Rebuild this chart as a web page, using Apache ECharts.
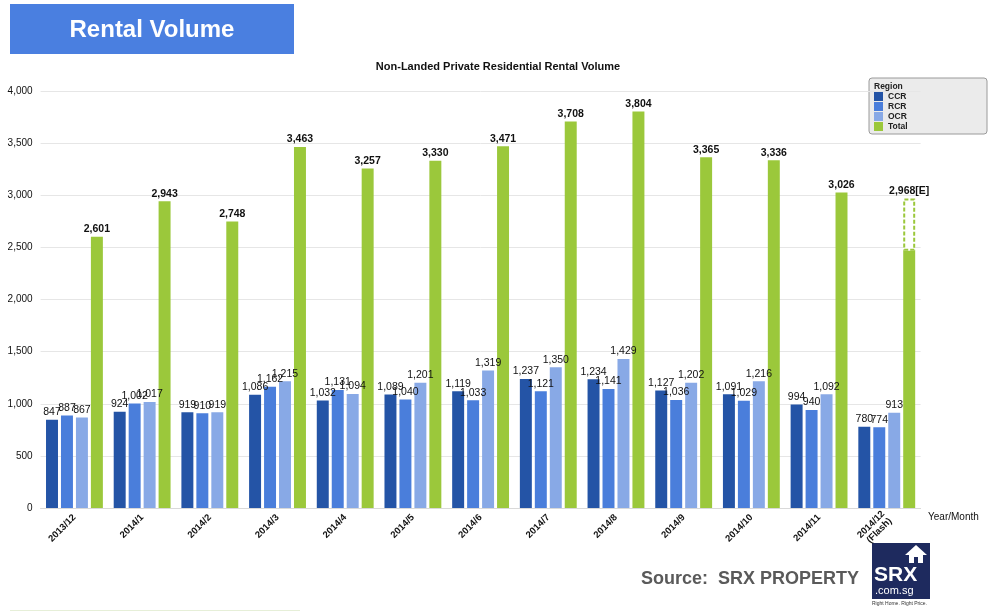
<!DOCTYPE html>
<html>
<head>
<meta charset="utf-8">
<script src="https://cdn.jsdelivr.net/npm/echarts@6/dist/echarts.min.js"></script>
<style>
html,body{margin:0;padding:0;background:#fff;}
#c{width:993px;height:613px;}
</style>
</head>
<body>
<div id="c"></div>
<script>
var categories = ['2013/12','2014/1','2014/2','2014/3','2014/4','2014/5','2014/6','2014/7','2014/8','2014/9','2014/10','2014/11','2014/12\n(Flash)'];
var ccr = [847, 924, 919, 1086, 1032, 1089, 1119, 1237, 1234, 1127, 1091, 994, 780];
var rcr = [887, 1002, 910, 1162, 1131, 1040, 1033, 1121, 1141, 1036, 1029, 940, 774];
var ocr = [867, 1017, 919, 1215, 1094, 1201, 1319, 1350, 1429, 1202, 1216, 1092, 913];
var total = [2601, 2943, 2748, 3463, 3257, 3330, 3471, 3708, 3804, 3365, 3336, 3026, 2467];
var estimatedTotal = [null, null, null, null, null, null, null, null, null, null, null, null, 2968];
var yTicks = [0, 500, 1000, 1500, 2000, 2500, 3000, 3500, 4000];

var fmt = function (v) { return v == null ? '' : v.toLocaleString('en-US'); };
var estPart = estimatedTotal.map(function (e, i) { return e == null ? null : e - total[i]; });

var FONT = 'Arial, Liberation Sans, sans-serif';
var C_CCR = '#2454A6', C_RCR = '#4A7EDB', C_OCR = '#88A9E6', C_TOT = '#9BC83B';
var lblSmall = { show: true, position: 'top', distance: 2, color: '#111', fontSize: 10.5, fontFamily: FONT, formatter: function (p) { return fmt(p.value); } };

var chart = echarts.init(document.getElementById('c'), null, { renderer: 'canvas' });
chart.setOption({
  animation: false,
  backgroundColor: '#fff',
  title: {
    text: 'Non-Landed Private Residential Rental Volume',
    left: 493, top: 56, textAlign: 'center',
    textStyle: { fontSize: 11, fontWeight: 'bold', color: '#111', fontFamily: FONT }
  },
  grid: { left: 40.6, right: 72.4, top: 91, bottom: 105, containLabel: false },
  legend: {
    data: ['CCR', 'RCR', 'OCR', 'Total'],
    orient: 'vertical', left: 874, top: 92, padding: 0,
    itemWidth: 9, itemHeight: 9, itemGap: 1, icon: 'rect',
    textStyle: { fontSize: 8.5, fontWeight: 'bold', color: '#222', fontFamily: FONT, padding: [0, 0, 0, 0] }
  },
  graphic: [
    { type: 'rect', x: 10, y: 4, shape: { width: 284, height: 50 }, style: { fill: '#4A7FE0' }, z: 0 },
    { type: 'text', x: 152, y: 30, style: { text: 'Rental Volume', fill: '#fff', font: 'bold 24px Arial, Liberation Sans, sans-serif', align: 'center', verticalAlign: 'middle' } },
    { type: 'rect', x: 869, y: 78, shape: { width: 118, height: 56, r: 3 }, style: { fill: '#EBEBEB', stroke: '#9A9A9A', lineWidth: 1 }, z: -1, silent: true },
    { type: 'text', x: 874, y: 82, style: { text: 'Region', fill: '#222', font: 'bold 8.5px Arial, Liberation Sans, sans-serif' } },
    { type: 'text', x: 928, y: 512, style: { text: 'Year/Month', fill: '#111', font: '10px Arial, Liberation Sans, sans-serif' } },
    { type: 'text', x: 641, y: 570, style: { text: 'Source:  SRX PROPERTY', fill: '#5A5A5A', font: 'bold 18px Arial, Liberation Sans, sans-serif' } },
    { type: 'rect', x: 872, y: 543, shape: { width: 58, height: 56 }, style: { fill: '#1E2A5E' } },
    { type: 'polygon', shape: { points: [[916, 545], [905, 555], [909, 555], [909, 563], [923, 563], [923, 555], [927, 555]] }, style: { fill: '#fff' } },
    { type: 'rect', x: 914, y: 557, shape: { width: 4, height: 6 }, style: { fill: '#1E2A5E' } },
    { type: 'text', x: 874, y: 565, style: { text: 'SRX', fill: '#fff', font: 'bold 21px Arial, Liberation Sans, sans-serif' } },
    { type: 'text', x: 875, y: 585, style: { text: '.com.sg', fill: '#fff', font: '11px Arial, Liberation Sans, sans-serif' } },
    { type: 'text', x: 872, y: 601, style: { text: 'Right Home. Right Price.', fill: '#333', font: '5px Arial, Liberation Sans, sans-serif' } },
    { type: 'rect', x: 10, y: 610, shape: { width: 290, height: 1 }, style: { fill: '#E6EFD8' } }
  ],
  xAxis: {
    type: 'category', data: categories,
    axisLine: { lineStyle: { color: '#D9D9D9' } },
    axisTick: { show: false },
    axisLabel: { rotate: 45, interval: 0, fontSize: 9.5, fontWeight: 'bold', color: '#111', margin: 8, fontFamily: FONT, lineHeight: 10 }
  },
  yAxis: {
    type: 'value', min: yTicks[0], max: yTicks[yTicks.length - 1], interval: 500,
    axisLine: { show: false }, axisTick: { show: false },
    splitLine: { lineStyle: { color: '#E6E6E6' } },
    axisLabel: { fontSize: 10, color: '#111', margin: 8, fontFamily: FONT, formatter: function (v) { return fmt(v); } }
  },
  series: [
    { name: 'CCR', type: 'bar', data: ccr, itemStyle: { color: C_CCR }, barGap: '25%', barCategoryGap: '16%', label: lblSmall },
    { name: 'RCR', type: 'bar', data: rcr, itemStyle: { color: C_RCR }, barGap: '25%', barCategoryGap: '16%', label: lblSmall },
    { name: 'OCR', type: 'bar', data: ocr, itemStyle: { color: C_OCR }, barGap: '25%', barCategoryGap: '16%', label: lblSmall },
    { name: 'Total', type: 'bar', stack: 'tot', data: total, itemStyle: { color: C_TOT }, barGap: '25%', barCategoryGap: '16%',
      label: { show: true, position: 'top', distance: 2, color: '#111', fontSize: 10.5, fontWeight: 'bold', fontFamily: FONT,
        formatter: function (p) { return estimatedTotal[p.dataIndex] != null ? '' : fmt(p.value); } } },
    { name: 'Estimate', type: 'bar', stack: 'tot', data: estPart, barGap: '25%', barCategoryGap: '16%',
      itemStyle: { color: 'rgba(255,255,255,1)', borderColor: C_TOT, borderWidth: 2, borderType: [4, 2] },
      label: { show: true, position: 'top', distance: 2, color: '#111', fontSize: 10.5, fontWeight: 'bold', fontFamily: FONT,
        formatter: function (p) { var e = estimatedTotal[p.dataIndex]; return e == null ? '' : fmt(e) + '[E]'; } } }
  ]
});
</script>
</body>
</html>
